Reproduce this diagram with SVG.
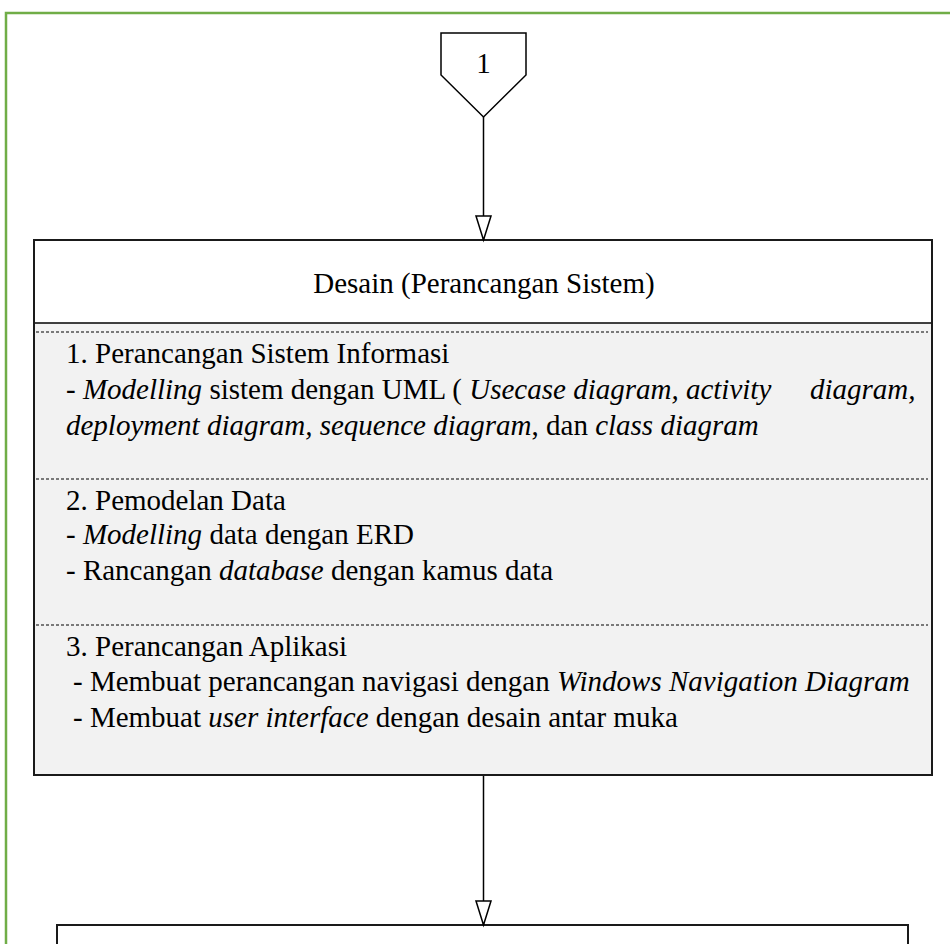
<svg xmlns="http://www.w3.org/2000/svg" width="950" height="944" viewBox="0 0 950 944">
<style>
.t{font-family:"Liberation Serif","Times New Roman",serif;font-size:29px;fill:#000}
.i{font-style:italic}
.edge{stroke:#000;stroke-width:1.5;fill:none}
.dash{stroke:#000;stroke-width:1;stroke-dasharray:3,2;fill:none}
</style>
<defs>
<marker id="tri" markerUnits="userSpaceOnUse" markerWidth="28" markerHeight="20" refX="25" refY="8" orient="auto">
<path d="M1,0.5 L25,8 L1,15.5 z" fill="#fff" stroke="#000" stroke-width="1.5"/>
</marker>
</defs>
<rect width="950" height="944" fill="#fff"/>
<rect id="frame" x="6" y="13" width="980" height="980" fill="none" stroke="#70AD47" stroke-width="2.5"/>

<g id="connector1">
<path d="M441,33 L526,33 L526,75 L483.5,117 L441,75 Z" fill="#fff" stroke="#000" stroke-width="1.5"/>
<text class="t" x="483.5" y="73" text-anchor="middle">1</text>
</g>

<g id="desain">
<rect x="34" y="240" width="898" height="535" fill="#f2f2f2" stroke="none"/>
<rect x="34" y="240" width="898" height="83" fill="#fff" stroke="none"/>
<line x1="34" y1="323" x2="932" y2="323" stroke="#000" stroke-width="1.5"/>
<rect x="34" y="240" width="898" height="535" fill="none" stroke="#1a1a1a" stroke-width="2"/>
<text class="t" x="484" y="293" text-anchor="middle">Desain (Perancangan Sistem)</text>
<line class="dash" x1="36" y1="332" x2="928" y2="332"/>
<line class="dash" x1="36" y1="479" x2="928" y2="479"/>
<line class="dash" x1="36" y1="625" x2="928" y2="625"/>
<text class="t" x="66" y="363">1. Perancangan Sistem Informasi</text>
<text class="t" x="66" y="399">- <tspan class="i">Modelling</tspan> sistem dengan UML ( <tspan class="i">Usecase diagram, activity</tspan><tspan class="i" x="810">diagram,</tspan></text>
<text class="t" x="66" y="435"><tspan class="i">deployment diagram, sequence diagram</tspan>, dan <tspan class="i">class diagram</tspan></text>
<text class="t" x="66" y="510">2. Pemodelan Data</text>
<text class="t" x="66" y="544">- <tspan class="i">Modelling</tspan> data dengan ERD</text>
<text class="t" x="66" y="580">- Rancangan <tspan class="i">database</tspan> dengan kamus data</text>
<text class="t" x="66" y="656">3. Perancangan Aplikasi</text>
<text class="t" x="73" y="691">- Membuat perancangan navigasi dengan <tspan class="i">Windows Navigation Diagram</tspan></text>
<text class="t" x="73" y="727">- Membuat <tspan class="i">user interface</tspan> dengan desain antar muka</text>
</g>

<g id="next">
<rect x="57" y="925" width="851" height="60" fill="#fff" stroke="#1a1a1a" stroke-width="2"/>
</g>

<g id="connectors">
<line class="edge" x1="483.5" y1="117" x2="483.5" y2="240" marker-end="url(#tri)"/>
<line class="edge" x1="483.5" y1="776" x2="483.5" y2="925" marker-end="url(#tri)"/>
</g>
</svg>
